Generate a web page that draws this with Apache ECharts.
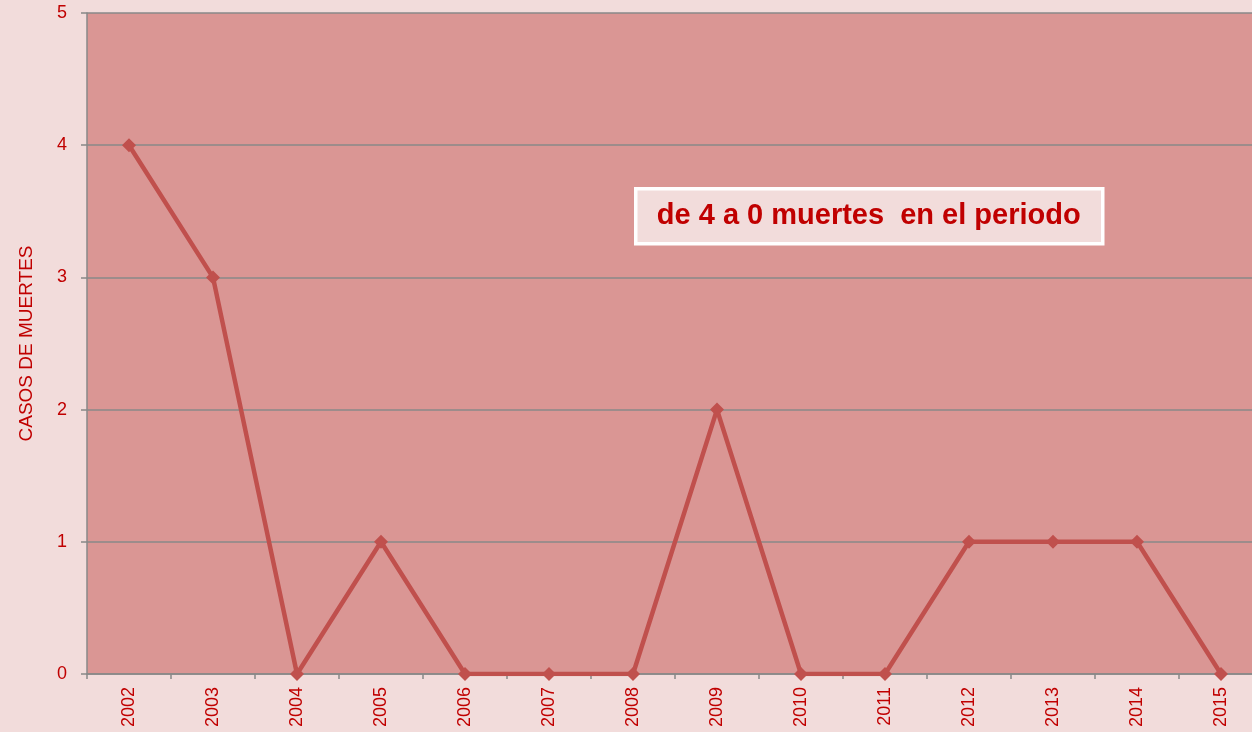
<!DOCTYPE html>
<html>
<head>
<meta charset="utf-8">
<script src="https://cdn.jsdelivr.net/npm/echarts@6/dist/echarts.min.js"></script>
<style>
  html, body { margin: 0; padding: 0; background: #F2DCDB; overflow: hidden; }
  /* the plot runs past the right edge in the original, so the canvas is a bit wider than the window */
  #main { width: 1263px; height: 732px; }
</style>
</head>
<body>
<div id="main"></div>
<script>
// data
var years = ["2002", "2003", "2004", "2005", "2006", "2007", "2008", "2009", "2010", "2011", "2012", "2013", "2014", "2015"];
var muertes = [4, 3, 0, 1, 0, 0, 0, 2, 0, 0, 1, 1, 1, 0];
var yTicks = { min: 0, max: 5, interval: 1 };
var yName = "CASOS DE MUERTES";
var note = "de 4 a 0 muertes  en el periodo";

var myChart = echarts.init(document.getElementById("main"), null, { renderer: "canvas" });

var option = {
  backgroundColor: "#F2DCDB",
  animation: false,
  grid: {
    left: 87,
    top: 13,
    right: 0,
    bottom: 58,
    show: true,
    backgroundColor: "#DA9694",
    borderWidth: 0
  },
  xAxis: {
    type: "category",
    data: years,
    boundaryGap: true,
    axisLine: { lineStyle: { color: "#888888", width: 1.5 } },
    axisTick: { show: true, length: 5, lineStyle: { color: "#888888", width: 1.5 } },
    axisLabel: {
      rotate: 90,
      color: "#C00000",
      fontFamily: "Liberation Sans, Arial",
      fontSize: 18,
      margin: 13
    },
    splitLine: { show: false }
  },
  yAxis: {
    type: "value",
    min: yTicks.min,
    max: yTicks.max,
    interval: yTicks.interval,
    name: yName,
    nameLocation: "middle",
    nameGap: 51,
    nameRotate: 90,
    nameTextStyle: {
      color: "#C00000",
      fontFamily: "Liberation Sans, Arial",
      fontSize: 19
    },
    axisLine: { show: true, lineStyle: { color: "#888888", width: 1.5 } },
    axisTick: { show: true, length: 6, lineStyle: { color: "#888888", width: 1.5 } },
    axisLabel: {
      color: "#C00000",
      fontFamily: "Liberation Sans, Arial",
      fontSize: 18,
      margin: 20
    },
    splitLine: { show: true, lineStyle: { color: "#888888", width: 1.5 } }
  },
  series: [
    {
      type: "line",
      data: muertes,
      symbol: "diamond",
      symbolSize: 14,
      lineStyle: { color: "#C0504D", width: 4.5 },
      itemStyle: { color: "#C0504D" }
    }
  ],
  graphic: [
    {
      type: "group",
      left: 634,
      top: 187,
      children: [
        {
          type: "rect",
          shape: { x: 0, y: 0, width: 467, height: 55 },
          style: { fill: "#F2DCDB", stroke: "#FFFFFF", lineWidth: 3.5 }
        },
        {
          type: "text",
          x: 233,
          y: 27,
          style: {
            text: note,
            fill: "#C00000",
            font: "bold 29px 'Liberation Sans', Arial",
            align: "center",
            verticalAlign: "middle"
          }
        }
      ]
    }
  ]
};

myChart.setOption(option);
window.addEventListener("resize", myChart.resize);
</script>
</body>
</html>
